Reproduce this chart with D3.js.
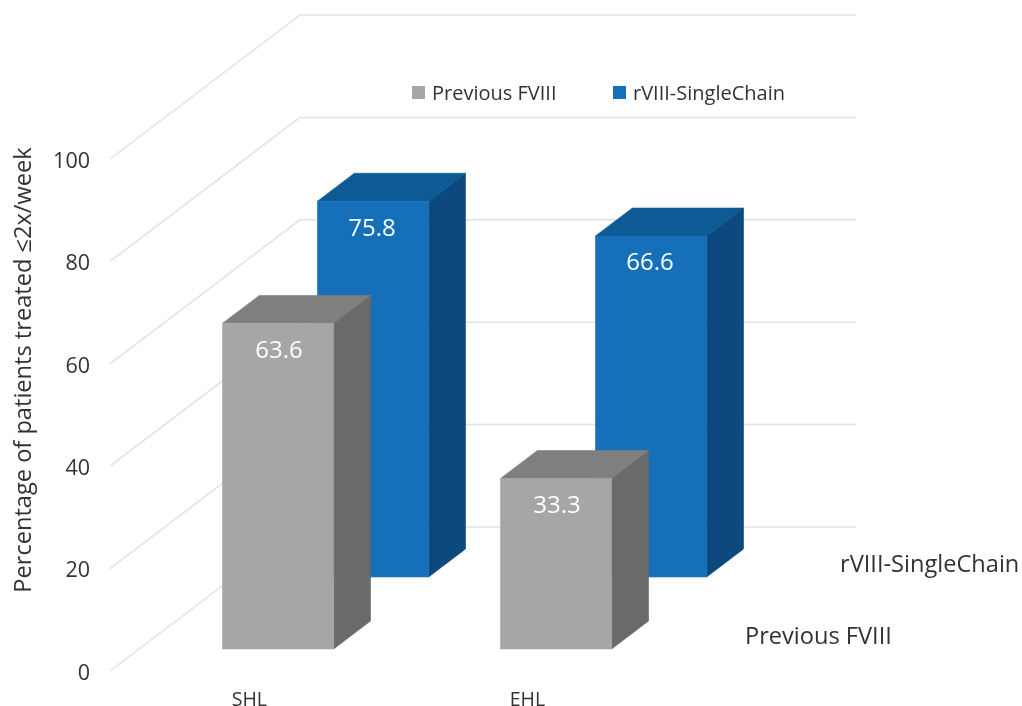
<!DOCTYPE html>
<html><head><meta charset="utf-8">
<script src="https://cdn.jsdelivr.net/npm/d3@7"></script>
<style>html,body{margin:0;padding:0;background:#fff}svg{display:block}text{font-family:"Open Sans",sans-serif}</style>
</head><body><svg id="c" width="1022" height="706"></svg>
<script>
const categories = ["SHL", "EHL"];
const seriesNames = ["Previous FVIII", "rVIII-SingleChain"];
const yTicks = [0, 20, 40, 60, 80, 100];
const previousValues = [63.6, 33.3];
// Bar heights as drawn in the picture; the first blue bar is drawn lower than its printed label.
const singleChainValues = [73.4, 66.6];
const previousLabels = ["63.6", "33.3"];
const singleChainLabels = ["75.8", "66.6"];
const axisTitle = "Percentage of patients treated ≤2x/week";

const svg = d3.select("#c");
const defs = svg.append("defs");
defs.append("filter").attr("id", "soft").attr("x", "0").attr("y", "0").attr("width", "100%").attr("height", "100%")
  .append("feGaussianBlur").attr("stdDeviation", 0.45);
const root = svg.append("g").attr("filter", "url(#soft)");
root.append("rect").attr("width", 1022).attr("height", 706).attr("fill", "#fff");

const x = d3.scaleBand().domain(categories).range([110, 666]).paddingInner(0.6).paddingOuter(0.3);
const y = d3.scaleLinear().domain([0, 100]).range([671, 159]);
const depth = d3.scaleBand().domain(seriesNames).range([0, 1]).paddingInner(0.612).paddingOuter(0.306);
const dx = d => 190 * d, dy = d => -144 * d;
const P = (px, py, d) => [px + dx(d), py + dy(d)];
const poly = pts => "M" + pts.map(p => p.join(",")).join("L") + "Z";

// gridlines: side wall + back wall
root.append("g").selectAll("path").data(yTicks).join("path")
  .attr("fill", "none").attr("stroke", "#e2e2e2").attr("stroke-width", 1.5)
  .attr("d", t => {
    const a = P(x.range()[0], y(t), 0), b = P(x.range()[0], y(t), 1), c = P(x.range()[1], y(t), 1);
    return "M" + [a, b, c].map(p => p.join(",")).join("L");
  });

// y axis
const ax = root.append("g").attr("transform", "translate(110,1.5)")
  .call(d3.axisLeft(y).tickValues(yTicks).tickSize(0).tickPadding(20));
ax.select(".domain").remove();
ax.selectAll("text").attr("font-size", 21.5).attr("font-family", '"Open Sans",sans-serif').attr("fill", "#333");

root.append("text").attr("transform", "translate(31,370) rotate(-90)").attr("text-anchor", "middle")
  .attr("font-size", 23.6).attr("fill", "#333").text(axisTitle);

// bars, back series first
const series = [
  { name: seriesNames[1], values: singleChainValues, labels: singleChainLabels, shift: -1, front: "#1570b9", top: "#0b5a95", side: "#0b4a7f" },
  { name: seriesNames[0], values: previousValues, labels: previousLabels, shift: 1, front: "#a6a6a6", top: "#7f7f7f", side: "#6a6a6a" }
];
series.forEach(s => {
  const d0 = depth(s.name), d1 = d0 + depth.bandwidth();
  const g = root.append("g");
  categories.forEach((c, i) => {
    const l = x(c), r = l + x.bandwidth(), b = y(0), t = y(s.values[i]);
    const face = (pts, col) => g.append("path").attr("fill", col).attr("stroke", col).attr("stroke-width", 0.6)
      .attr("stroke-linejoin", "round").attr("d", poly(pts));
    face([P(r, t, d0), P(r, t, d1), P(r, b, d1), P(r, b, d0)], s.side);
    face([P(l, t, d0), P(r, t, d0), P(r, t, d1), P(l, t, d1)], s.top);
    face([P(l, t, d0), P(r, t, d0), P(r, b, d0), P(l, b, d0)], s.front);
    const f = P((l + r) / 2, t, d0);
    g.append("text").attr("x", f[0] + s.shift).attr("y", f[1] + 34.5).attr("text-anchor", "middle")
      .attr("font-size", 24).attr("fill", "#fff").text(s.labels[i]);
  });
});

// category labels
root.append("g").selectAll("text").data(categories).join("text")
  .attr("x", c => x(c) + 56).attr("y", 705.5).attr("text-anchor", "middle")
  .attr("font-size", 19.5).attr("fill", "#333").text(c => c);

// legend
const legendX = [412, 613], legendColors = ["#a6a6a6", "#1570b9"];
const lg = root.append("g").selectAll("g").data(seriesNames).join("g")
  .attr("transform", (d, i) => `translate(${legendX[i]},86)`);
lg.append("rect").attr("width", 13).attr("height", 13).attr("fill", (d, i) => legendColors[i]);
lg.append("text").attr("x", 20).attr("y", 13.5).attr("font-size", 20).attr("fill", "#333").text(d => d);

// series-axis labels
const seriesLabelPos = [[745, 644], [840, 572]];
root.append("g").selectAll("text").data(seriesNames).join("text")
  .attr("x", (d, i) => seriesLabelPos[i][0]).attr("y", (d, i) => seriesLabelPos[i][1])
  .attr("font-size", 23.6).attr("fill", "#333").text(d => d);
</script></body></html>
